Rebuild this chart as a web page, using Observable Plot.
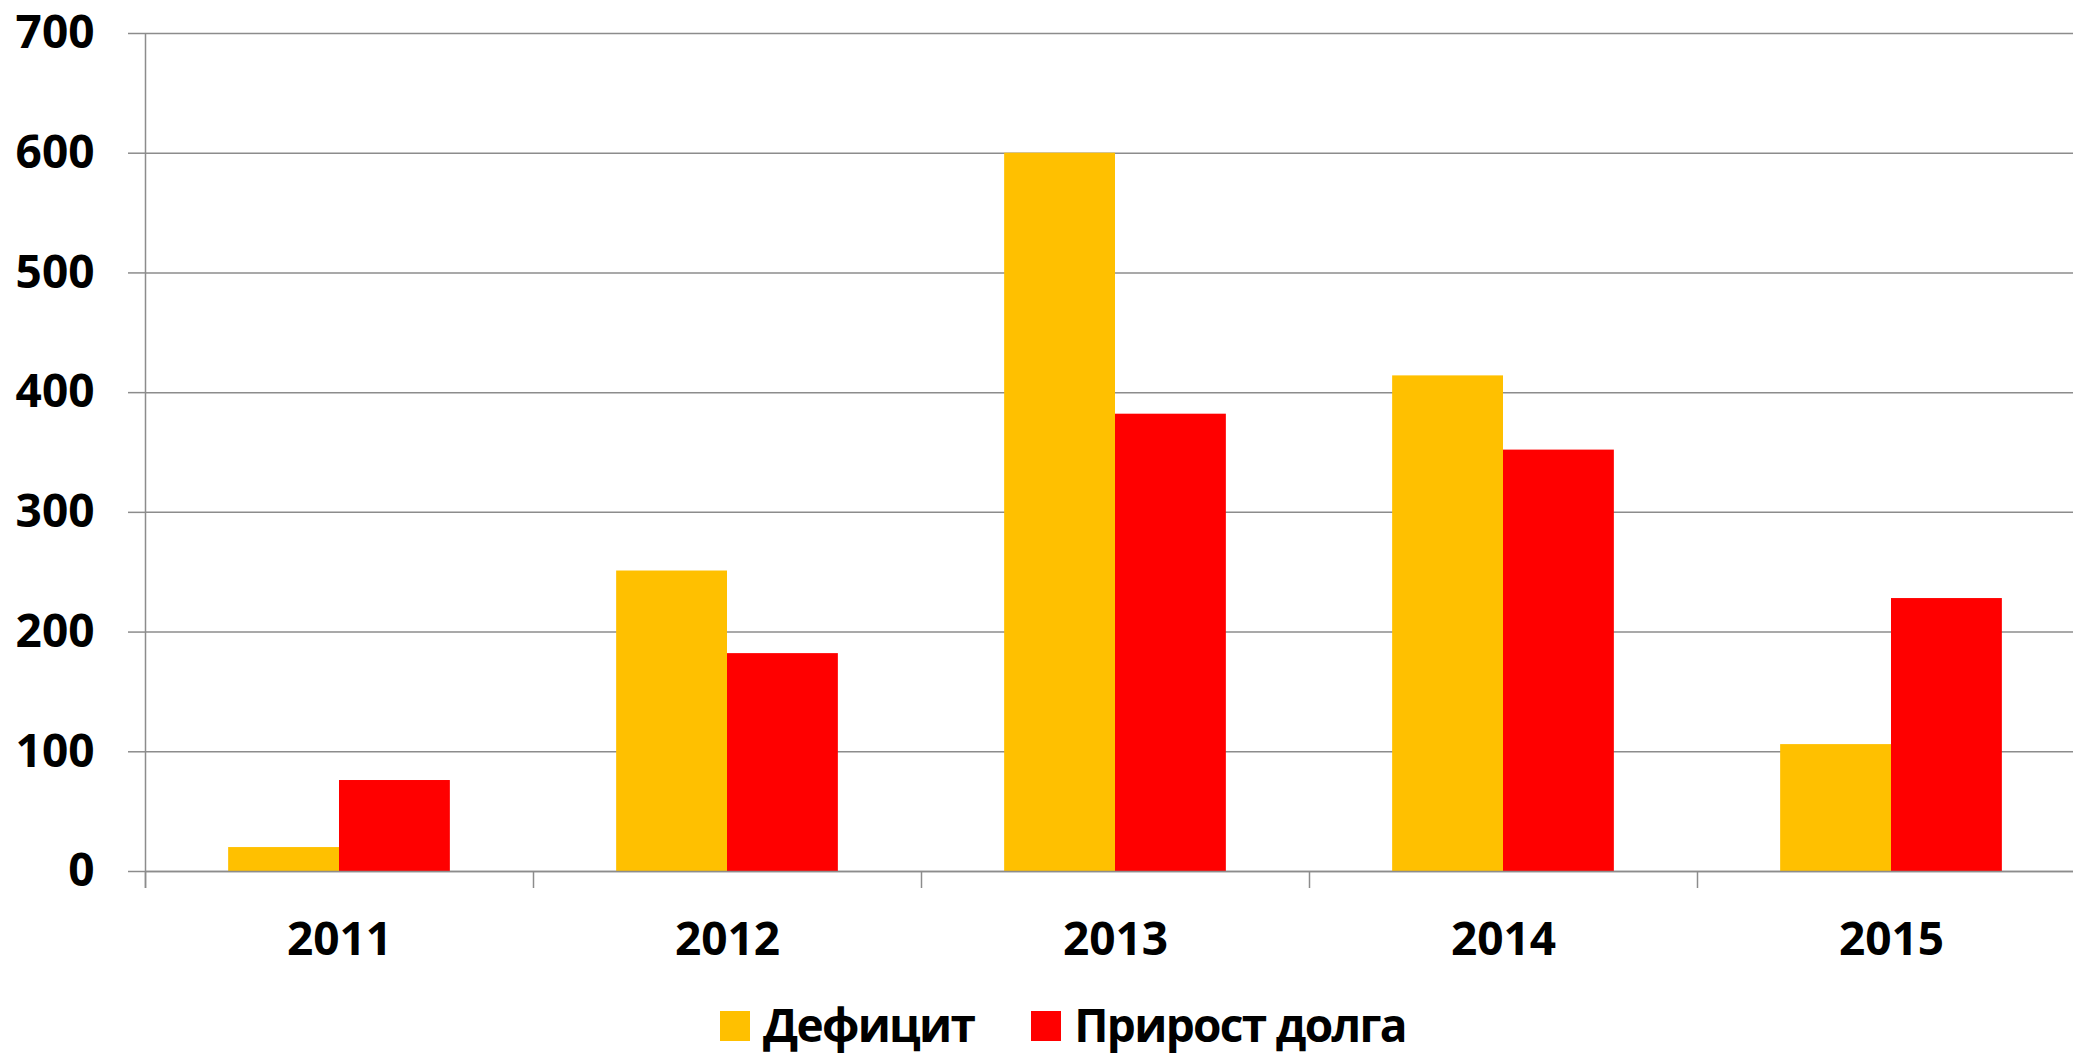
<!DOCTYPE html>
<html>
<head>
<meta charset="utf-8">
<script src="https://cdn.jsdelivr.net/npm/d3@7"></script>
<script src="https://cdn.jsdelivr.net/npm/@observablehq/plot@0.6"></script>
<style>
  html, body { margin: 0; padding: 0; background: white; overflow: hidden; }
  #wrap { position: relative; width: 2073px; height: 1053px; }
  #legend { position: absolute; top: 1001px; left: 720px; display: flex; font-family: "Open Sans", sans-serif; font-weight: 700; font-size: 46px; line-height: 46px; color: black; letter-spacing: -1.7px; }
  .item { display: flex; align-items: flex-start; margin-right: 57px; white-space: nowrap; }
  .sw { width: 30px; height: 30px; margin-top: 10px; margin-right: 13px; }
</style>
</head>
<body>
<div id="wrap"><div id="chart"></div><div id="legend"></div></div>
<script>
const years = ["2011", "2012", "2013", "2014", "2015"];
const deficit = [20, 251, 600, 414, 106];
const debtGrowth = [76, 182, 382, 352, 228];
const seriesNames = ["Дефицит", "Прирост долга"];
const seriesColors = ["#FFC000", "#FF0000"];
const yTicks = [0, 100, 200, 300, 400, 500, 600, 700];

const rowsDef = years.map((y, i) => ({year: y, series: seriesNames[0], value: deficit[i]}));
const rowsDebt = years.map((y, i) => ({year: y, series: seriesNames[1], value: debtGrowth[i]}));

const W = 2073, H = 990;
const mL = 145, mR = -12, mT = 33, mB = H - 871;
const step = (W - mR - mL) / years.length;
const bw = step / 3.5;
const outer = 0.75 * bw;
const grid = "#8c8c8c";

const chart = Plot.plot({
  width: W,
  height: H,
  marginLeft: mL,
  marginRight: mR,
  marginTop: mT,
  marginBottom: mB,
  style: {fontFamily: "Open Sans, sans-serif", fontSize: "46px", fontWeight: 700, color: "black", background: "white"},
  x: {domain: years, padding: 0, label: null},
  y: {domain: [0, 700], label: null},
  marks: [
    Plot.gridY(yTicks, {stroke: grid, strokeOpacity: 1, strokeWidth: 1.5}),
    Plot.barY(rowsDef, {x: "year", y: "value", fill: seriesColors[0], insetLeft: outer, insetRight: step - outer - bw}),
    Plot.barY(rowsDebt, {x: "year", y: "value", fill: seriesColors[1], insetLeft: outer + bw, insetRight: outer}),
    Plot.ruleY([0], {stroke: grid, strokeWidth: 1.5}),
    Plot.ruleX(years, {x: d => d, dx: -step / 2, y1: 0, y2: 0, insetBottom: -17, stroke: grid, strokeWidth: 1.5}),
    Plot.ruleX(years.slice(0, 1), {x: d => d, dx: -step / 2, y1: 700, y2: 0, insetBottom: -17, stroke: grid, strokeWidth: 1.5}),
    Plot.axisY(yTicks, {tickSize: 17, tickPadding: 34, stroke: grid, strokeWidth: 1.5, fill: "black", fontSize: 46, fontWeight: 700, label: null}),
    Plot.axisX({tickSize: 0, tickPadding: 51, fill: "black", fontSize: 46, fontWeight: 700, label: null})
  ]
});
document.getElementById("chart").appendChild(chart);

const legend = document.getElementById("legend");
seriesNames.forEach((name, i) => {
  const it = document.createElement("div");
  it.className = "item";
  const sw = document.createElement("div");
  sw.className = "sw";
  sw.style.background = seriesColors[i];
  const t = document.createElement("span");
  t.textContent = name;
  it.appendChild(sw);
  it.appendChild(t);
  legend.appendChild(it);
});
</script>
</body>
</html>
